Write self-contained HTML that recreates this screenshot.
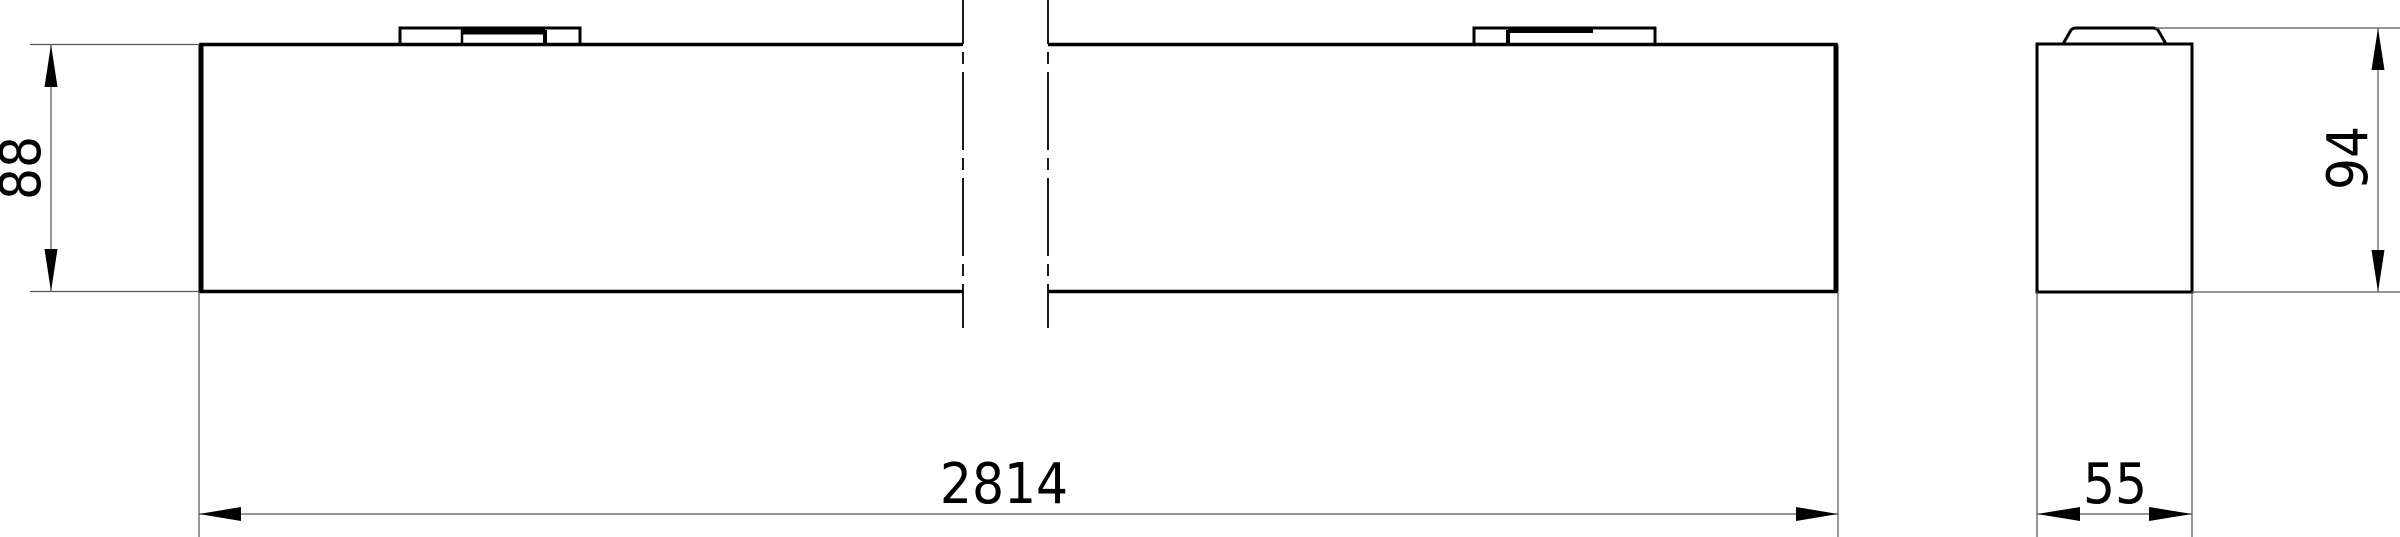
<!DOCTYPE html>
<html><head><meta charset="utf-8"><style>
html,body{margin:0;padding:0;background:#fff}
svg{display:block}
text{font-family:"DejaVu Sans Condensed","DejaVu Sans","Liberation Sans",sans-serif;font-stretch:condensed;fill:#000}
</style></head><body>
<svg width="2400" height="537" viewBox="0 0 2400 537" xmlns="http://www.w3.org/2000/svg">
<g stroke="#000" fill="none" stroke-width="3.5">
  <path d="M963 44.5 H201 V291.5 H963"/>
  <line x1="201" y1="44.5" x2="201" y2="291.5" stroke-width="5"/>
  <path d="M1048 44.5 H1836 V291.5 H1048"/>
  <line x1="1836" y1="44.5" x2="1836" y2="291.5" stroke-width="5"/>
  <!-- left clip -->
  <path d="M400 44 V28 H580 V44" stroke-width="3"/>
  <line x1="462" y1="28" x2="462" y2="44" stroke-width="2.5"/>
  <line x1="545" y1="30" x2="545" y2="44" stroke-width="4"/>
  <line x1="462" y1="32" x2="545" y2="32" stroke-width="5"/>
  <!-- right clip -->
  <path d="M1474 44 V28 H1655 V44" stroke-width="3"/>
  <line x1="1508" y1="30" x2="1508" y2="44" stroke-width="4"/>
  <line x1="1508" y1="30.5" x2="1593" y2="30.5" stroke-width="5"/>
  <!-- side view -->
  <rect x="2037" y="44" width="155" height="248" stroke-width="3"/>
  <path d="M2063 44 L2071 30 Q2073 28 2076 28 H2153 Q2156 28 2158 30 L2166 44" stroke-width="3"/>
</g>
<!-- break lines -->
<g stroke="#000" stroke-width="1.8" stroke-dasharray="78 8 12 8" fill="none">
  <line x1="963" y1="-34" x2="963" y2="328"/>
  <line x1="1048" y1="-34" x2="1048" y2="328"/>
</g>
<!-- thin dimension lines -->
<g stroke="#555" stroke-width="1.2" fill="none">
  <line x1="30" y1="44.5" x2="199" y2="44.5"/>
  <line x1="30" y1="291.5" x2="199" y2="291.5"/>
  <line x1="51" y1="44.5" x2="51" y2="291.5"/>
  <line x1="199" y1="292" x2="199" y2="537"/>
  <line x1="1838" y1="292" x2="1838" y2="537"/>
  <line x1="199" y1="514" x2="1838" y2="514"/>
  <line x1="2155" y1="28" x2="2400" y2="28"/>
  <line x1="2192" y1="292" x2="2400" y2="292"/>
  <line x1="2378" y1="28" x2="2378" y2="292"/>
  <line x1="2037" y1="292" x2="2037" y2="537"/>
  <line x1="2192" y1="292" x2="2192" y2="537"/>
  <line x1="2037" y1="514" x2="2192" y2="514"/>
</g>
<g fill="#000">
  <polygon points="51,44.5 44.5,87 57.5,87"/>
  <polygon points="51,291.5 44.5,249 57.5,249"/>
  <polygon points="199,514 241,507 241,521"/>
  <polygon points="1838,514 1796,507 1796,521"/>
  <polygon points="2378,28 2371.5,70 2384.5,70"/>
  <polygon points="2378,292 2371.5,250 2384.5,250"/>
  <polygon points="2037,514 2080,507 2080,521"/>
  <polygon points="2192,514 2149,507 2149,521"/>
</g>
<text x="1004" y="503" font-size="56" text-anchor="middle">2814</text>
<text x="2115" y="503" font-size="56" text-anchor="middle">55</text>
<text transform="translate(40,168) rotate(-90)" font-size="56" text-anchor="middle">88</text>
<text transform="translate(2367,158) rotate(-90)" font-size="56" text-anchor="middle">94</text>
</svg>
</body></html>
